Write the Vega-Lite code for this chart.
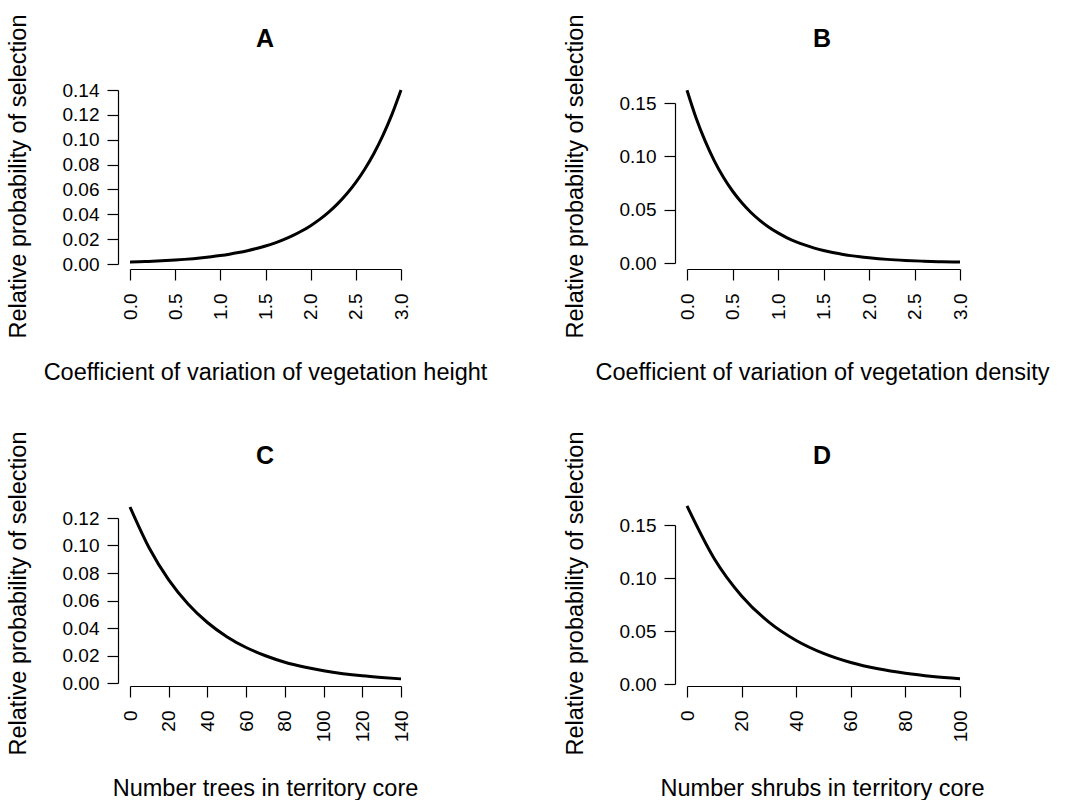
{
  "$schema": "https://vega.github.io/schema/vega-lite/v6.json",
  "background": "white",
  "padding": {"left": 5, "top": 14, "right": 0, "bottom": 0},
  "columns": 2,
  "spacing": {"row": 231, "column": 263},
  "bounds": "flush",
  "datasets": {
    "A": [
      {"x": 0.0, "y": 0.00150}, {"x": 0.1, "y": 0.00174}, {"x": 0.2, "y": 0.00203}, {"x": 0.3, "y": 0.00236},
      {"x": 0.4, "y": 0.00275}, {"x": 0.5, "y": 0.00319}, {"x": 0.6, "y": 0.00372}, {"x": 0.7, "y": 0.00432},
      {"x": 0.8, "y": 0.00503}, {"x": 0.9, "y": 0.00585}, {"x": 1.0, "y": 0.00680}, {"x": 1.1, "y": 0.00791},
      {"x": 1.2, "y": 0.00921}, {"x": 1.3, "y": 0.01071}, {"x": 1.4, "y": 0.01246}, {"x": 1.5, "y": 0.01449},
      {"x": 1.6, "y": 0.01686}, {"x": 1.7, "y": 0.01961}, {"x": 1.8, "y": 0.02281}, {"x": 1.9, "y": 0.02653},
      {"x": 2.0, "y": 0.03086}, {"x": 2.1, "y": 0.03590}, {"x": 2.2, "y": 0.04176}, {"x": 2.3, "y": 0.04858},
      {"x": 2.4, "y": 0.05651}, {"x": 2.5, "y": 0.06572}, {"x": 2.6, "y": 0.07646}, {"x": 2.7, "y": 0.08894},
      {"x": 2.8, "y": 0.10346}, {"x": 2.9, "y": 0.12035}, {"x": 3.0, "y": 0.13998}
    ],
    "B": [
      {"x": 0.0, "y": 0.1620}, {"x": 0.1, "y": 0.1360}, {"x": 0.2, "y": 0.1142}, {"x": 0.3, "y": 0.0958},
      {"x": 0.4, "y": 0.0804}, {"x": 0.5, "y": 0.0675}, {"x": 0.6, "y": 0.0567}, {"x": 0.7, "y": 0.0476},
      {"x": 0.8, "y": 0.0400}, {"x": 0.9, "y": 0.0335}, {"x": 1.0, "y": 0.0282}, {"x": 1.1, "y": 0.0236},
      {"x": 1.2, "y": 0.0198}, {"x": 1.3, "y": 0.0167}, {"x": 1.4, "y": 0.0140}, {"x": 1.5, "y": 0.0117},
      {"x": 1.6, "y": 0.0098}, {"x": 1.7, "y": 0.0083}, {"x": 1.8, "y": 0.0069}, {"x": 1.9, "y": 0.0058},
      {"x": 2.0, "y": 0.0049}, {"x": 2.2, "y": 0.0034}, {"x": 2.4, "y": 0.0024}, {"x": 2.6, "y": 0.0017},
      {"x": 2.8, "y": 0.0012}, {"x": 3.0, "y": 0.00085}
    ],
    "C": [
      {"x": 0, "y": 0.1280}, {"x": 10, "y": 0.0980}, {"x": 20, "y": 0.0750}, {"x": 30, "y": 0.0575},
      {"x": 40, "y": 0.0440}, {"x": 50, "y": 0.0337}, {"x": 60, "y": 0.0258}, {"x": 70, "y": 0.0198},
      {"x": 80, "y": 0.0151}, {"x": 90, "y": 0.0116}, {"x": 100, "y": 0.0089}, {"x": 110, "y": 0.0068},
      {"x": 120, "y": 0.0052}, {"x": 130, "y": 0.0040}, {"x": 140, "y": 0.0030}
    ],
    "D": [
      {"x": 0, "y": 0.1680}, {"x": 10, "y": 0.1182}, {"x": 20, "y": 0.0831}, {"x": 30, "y": 0.0584},
      {"x": 40, "y": 0.0411}, {"x": 50, "y": 0.0289}, {"x": 60, "y": 0.0203}, {"x": 70, "y": 0.0143},
      {"x": 80, "y": 0.0101}, {"x": 90, "y": 0.0071}, {"x": 100, "y": 0.0050}
    ]
  },
  "config": {
    "font": "Liberation Sans",
    "view": {"stroke": null},
    "axis": {
      "grid": false,
      "domainColor": "#000000", "domainWidth": 1.2,
      "tickColor": "#000000", "tickWidth": 1.2, "tickSize": 11,
      "labelColor": "#000000", "labelFont": "Liberation Sans", "labelFontSize": 19,
      "titleColor": "#000000", "titleFont": "Liberation Sans", "titleFontSize": 23.5, "titleFontWeight": "normal",
      "titleBaseline": "middle",
      "labelOverlap": false, "labelFlush": false, "labelBound": false
    },
    "axisX": {"labelAngle": -90, "labelAlign": "right", "labelBaseline": "middle", "labelPadding": 13, "titleX": 147, "titleY": 103},
    "axisY": {"labelAlign": "right", "labelBaseline": "middle", "labelPadding": 8, "titleAngle": -90, "titleX": -100, "titleY": 93},
    "title": {"font": "Liberation Sans", "fontSize": 25, "fontWeight": "bold", "color": "#000000", "frame": "group", "anchor": "middle", "baseline": "alphabetic", "offset": -38},
    "line": {"color": "#000000", "strokeWidth": 3, "interpolate": "monotone"}
  },
  "concat": [
    {
      "width": 294, "height": 186,
      "title": "A",
      "data": {"name": "A"},
      "mark": {"type": "line"},
      "encoding": {
        "x": {"field": "x", "type": "quantitative",
              "scale": {"domain": [0, 3], "range": [12, 283], "nice": false, "zero": false},
              "axis": {"values": [0, 0.5, 1, 1.5, 2, 2.5, 3], "format": ".1f", "title": "Coefficient of variation of vegetation height"}},
        "y": {"field": "y", "type": "quantitative",
              "scale": {"domain": [0, 0.14], "range": [181, 7], "nice": false, "zero": false},
              "axis": {"values": [0, 0.02, 0.04, 0.06, 0.08, 0.1, 0.12, 0.14], "format": ".2f", "title": "Relative probability of selection"}}
      }
    },
    {
      "width": 294, "height": 186,
      "title": "B",
      "data": {"name": "B"},
      "mark": {"type": "line"},
      "encoding": {
        "x": {"field": "x", "type": "quantitative",
              "scale": {"domain": [0, 3], "range": [12, 285], "nice": false, "zero": false},
              "axis": {"values": [0, 0.5, 1, 1.5, 2, 2.5, 3], "format": ".1f", "title": "Coefficient of variation of vegetation density"}},
        "y": {"field": "y", "type": "quantitative",
              "scale": {"domain": [0, 0.15], "range": [180, 20], "nice": false, "zero": false},
              "axis": {"values": [0, 0.05, 0.1, 0.15], "format": ".2f", "title": "Relative probability of selection"}}
      }
    },
    {
      "width": 294, "height": 186,
      "title": "C",
      "data": {"name": "C"},
      "mark": {"type": "line"},
      "encoding": {
        "x": {"field": "x", "type": "quantitative",
              "scale": {"domain": [0, 140], "range": [12, 283], "nice": false, "zero": false},
              "axis": {"values": [0, 20, 40, 60, 80, 100, 120, 140], "format": "d", "title": "Number trees in territory core", "titleY": 102}},
        "y": {"field": "y", "type": "quantitative",
              "scale": {"domain": [0, 0.12], "range": [183, 18], "nice": false, "zero": false},
              "axis": {"values": [0, 0.02, 0.04, 0.06, 0.08, 0.1, 0.12], "format": ".2f", "title": "Relative probability of selection"}}
      }
    },
    {
      "width": 294, "height": 186,
      "title": "D",
      "data": {"name": "D"},
      "mark": {"type": "line"},
      "encoding": {
        "x": {"field": "x", "type": "quantitative",
              "scale": {"domain": [0, 100], "range": [12, 285], "nice": false, "zero": false},
              "axis": {"values": [0, 20, 40, 60, 80, 100], "format": "d", "title": "Number shrubs in territory core", "titleY": 102}},
        "y": {"field": "y", "type": "quantitative",
              "scale": {"domain": [0, 0.15], "range": [184, 25], "nice": false, "zero": false},
              "axis": {"values": [0, 0.05, 0.1, 0.15], "format": ".2f", "title": "Relative probability of selection"}}
      }
    }
  ]
}
